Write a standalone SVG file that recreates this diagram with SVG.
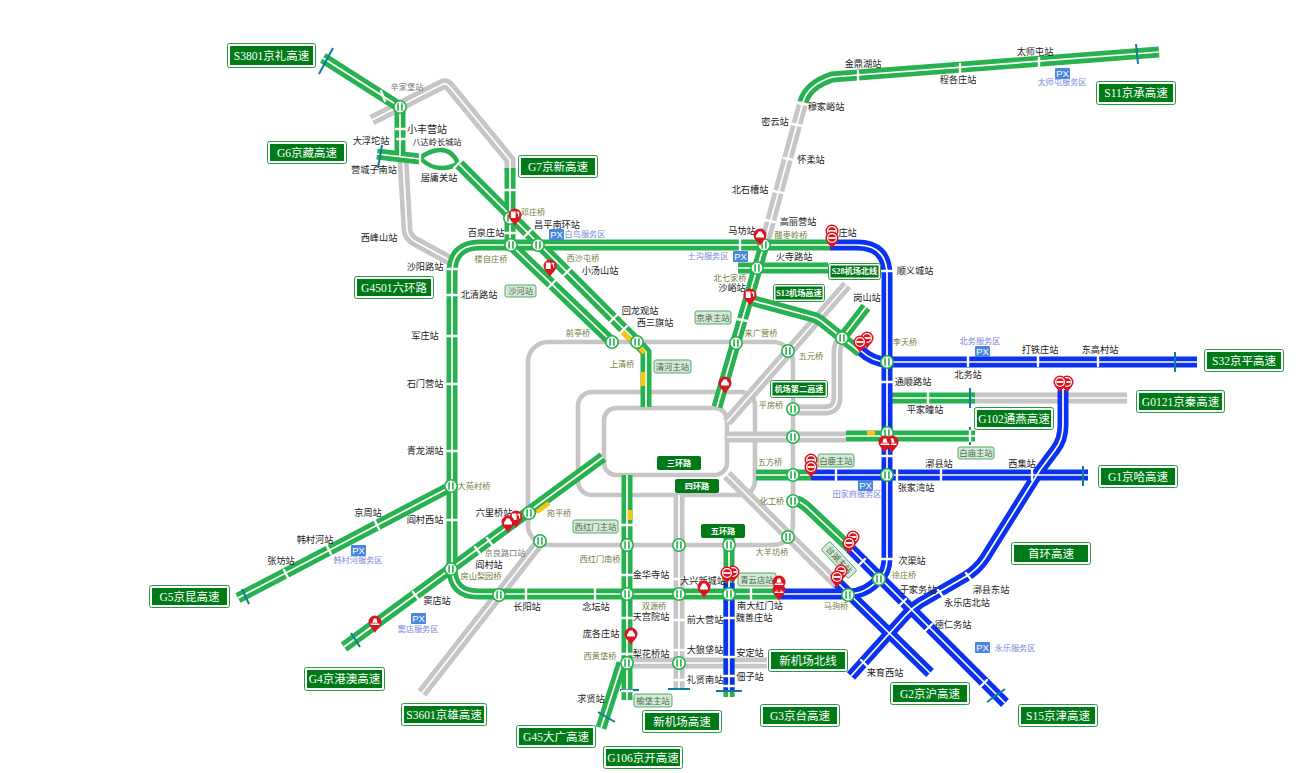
<svg xmlns="http://www.w3.org/2000/svg" xmlns:xlink="http://www.w3.org/1999/xlink" width="1306" height="773" viewBox="0 0 1306 773">
<style>
text{font-family:"Liberation Sans","Noto Sans CJK SC",sans-serif;text-anchor:middle;dominant-baseline:central}
.G,.B,.Y,.W,.R,.L,.T,.K,.S{fill:none}
.Y{stroke:#c6c6c6;stroke-width:11}
.G{stroke:#27b24f;stroke-width:11}
.B{stroke:#0a32f0;stroke-width:11}
.W{stroke:#fff;stroke-width:1.7}
.R{stroke:#c6c6c6;stroke-width:4.6}
.L{stroke:#27b24f;stroke-width:4.5}
.T{stroke:#fff;stroke-width:2.4;stroke-linecap:round}
.K{stroke:#0f7c99;stroke-width:2}
.S{stroke:#ffc20e;stroke-width:4.5}
.a{font-size:9.2px;fill:#222}
.b{font-size:8.2px;fill:#6f7d3c}
.c{font-size:8.2px;fill:#777}
.d{font-size:8.2px;fill:#7c86dc}
.h rect:first-child{fill:#fff;stroke:#2a9a48;stroke-width:1}
.h rect+rect{fill:#007a16}
.h text{font-family:"Liberation Serif","Noto Sans CJK SC",serif;fill:#fff;font-size:11.5px}
.m rect{fill:#007a16}
.m text{font-family:"Liberation Serif","Noto Sans CJK SC",serif;fill:#fff;font-size:8.2px;font-weight:bold}
.z rect{fill:#d6e9d8;stroke:#3fa65c;stroke-width:.9}
.z text{font-size:8.4px;fill:#4a6b4a}
.p rect{fill:#4a86e0}
.p text{font-size:9.5px;fill:#fff}
</style>
<defs>
<g id="jn"><circle r="6.2" fill="#fff" stroke="#27b24f" stroke-width="1.6"/><path d="M-1.9 -3.8V3.8M1.9 -3.8V3.8" stroke="#27b24f" stroke-width="1.6" fill="none"/></g>
<path id="pn" fill="#dc1420" d="M0 11C-1.5 7-6.5 4.5-6.5 0A6.5 6.5 0 1 1 6.5 0C6.5 4.5 1.5 7 0 11Z"/>
<g id="pc"><use xlink:href="#pn"/><circle r="4.4" fill="none" stroke="#fff" stroke-width="1.2"/><rect x="-3.6" y="-.9" width="7.2" height="1.8" fill="#fff"/></g>
<g id="pv"><use xlink:href="#pn"/><path fill="#fff" d="M-2.8 -1L-1.6 -3.4H1.6L2.8 -1L4 .2V2.4H-4V.2Z"/></g>
<g id="pf"><use xlink:href="#pn"/><path fill="#fff" d="M-4.2 -3.4H.6V3H-4.2ZM1.6 -3.2H4.2V1.6H3V-1.6H1.6Z"/></g>
<g id="pt"><use xlink:href="#pn"/><path fill="#fff" d="M-1.4 -3.6H1.4L2.6 .8H-2.6ZM-4.4 1.6H4.4V3H-4.4Z"/></g>
<path id="y1" d="M372 120L443 84Q447 83 450 87L510 160V172"/>
<path id="y2" d="M403 160L407 230Q408 238 416 242L453 262"/>
<path id="y3" d="M727 422L847 285"/>
<path id="y4" d="M798 410H825Q837 410 837 397V352Q837 345 842 338"/>
<path id="y5" d="M727 437H846"/>
<path id="y6" d="M970 398H1127"/>
<path id="y7" d="M727 475L838 585"/>
<path id="y8" d="M679 495V688"/>
<path id="y9" d="M627 663H767"/>
<path id="y10" d="M540 542L422 693"/>
<path id="y11" d="M764 245L803 102"/>
<path id="g1" d="M323 58L400 107V156"/>
<path id="g2" d="M377 154L420 159"/>
<path id="g3" d="M458 163L637 342L646 352V407"/>
<path id="g4" d="M510 168V245"/>
<path id="g5" d="M511 245L612 342"/>
<path id="g6" d="M830 245H480Q452 245 452 273V568Q452 594 478 594H780"/>
<path id="g7" d="M238 598L452 486"/>
<path id="g8" d="M344 647L603 457"/>
<path id="g9" d="M717 407L764 245"/>
<path id="g10" d="M803 102Q808 85 832 77L1159 52"/>
<path id="g11" d="M738 268H828"/>
<path id="g12" d="M750 300L813 317Q817 318 821 321L860 352"/>
<path id="g13" d="M842 338L866 307"/>
<path id="g14" d="M846 436H975"/>
<path id="g15" d="M882 398H975"/>
<path id="g16" d="M756 475H811"/>
<path id="g17" d="M797 501Q803 503 810 510L850 548"/>
<path id="g18" d="M627 475V700"/>
<path id="g19" d="M622 663L601 728"/>
<path id="g20" d="M729 537V697"/>
<path id="b1" d="M830 245H857Q887 245 887 275V558Q887 572 879 579Q866 594 848 594H780"/>
<path id="b2" d="M860 350Q873 362 887 362H1197"/>
<path id="b3" d="M811 475H1088"/>
<path id="b4" d="M850 548L1005 703"/>
<path id="b5" d="M838 583L930 673"/>
<path id="b6" d="M1063 390V425Q1063 440 1055 450L1040 470L985 558Q977 570 965 577L920 603Q912 608 905 616L851 676"/>
<path id="b7" d="M729 583V690"/>
</defs>
<rect width="1306" height="773" fill="#fff"/>
<g id="connectors">
<g id="rings" class="R"><rect x="604" y="408" width="123" height="67" rx="12"/><rect x="578" y="392" width="177" height="103" rx="14"/><rect x="528" y="342" width="265" height="203" rx="20"/></g>
<g class="Y"><use xlink:href="#y1"/><use xlink:href="#y2"/><use xlink:href="#y3"/><use xlink:href="#y4"/><use xlink:href="#y5"/><use xlink:href="#y6"/><use xlink:href="#y7"/><use xlink:href="#y8"/><use xlink:href="#y9"/><use xlink:href="#y10"/><use xlink:href="#y11"/></g>
<g class="W"><use xlink:href="#y1"/><use xlink:href="#y2"/><use xlink:href="#y3"/><use xlink:href="#y4"/><use xlink:href="#y5"/><use xlink:href="#y6"/><use xlink:href="#y7"/><use xlink:href="#y8"/><use xlink:href="#y9"/><use xlink:href="#y10"/><use xlink:href="#y11"/></g>
<g class="G"><use xlink:href="#g20"/><use xlink:href="#g14"/><use xlink:href="#g15"/></g><g class="W"><use xlink:href="#g20"/><use xlink:href="#g14"/><use xlink:href="#g15"/></g>
<g class="B"><use xlink:href="#b7"/></g><g class="W"><use xlink:href="#b7"/></g>
<g class="B"><use xlink:href="#b1"/><use xlink:href="#b2"/><use xlink:href="#b3"/><use xlink:href="#b4"/><use xlink:href="#b5"/><use xlink:href="#b6"/></g>
<g class="W"><use xlink:href="#b1"/><use xlink:href="#b2"/><use xlink:href="#b3"/><use xlink:href="#b4"/><use xlink:href="#b5"/><use xlink:href="#b6"/></g>
<g class="G"><use xlink:href="#g1"/><use xlink:href="#g2"/><use xlink:href="#g3"/><use xlink:href="#g4"/><use xlink:href="#g5"/><use xlink:href="#g6"/><use xlink:href="#g7"/><use xlink:href="#g8"/><use xlink:href="#g9"/><use xlink:href="#g10"/><use xlink:href="#g11"/><use xlink:href="#g12"/><use xlink:href="#g13"/><use xlink:href="#g16"/><use xlink:href="#g17"/><use xlink:href="#g18"/><use xlink:href="#g19"/></g>
<g class="W"><use xlink:href="#g1"/><use xlink:href="#g2"/><use xlink:href="#g3"/><use xlink:href="#g4"/><use xlink:href="#g5"/><use xlink:href="#g6"/><use xlink:href="#g7"/><use xlink:href="#g8"/><use xlink:href="#g9"/><use xlink:href="#g10"/><use xlink:href="#g11"/><use xlink:href="#g12"/><use xlink:href="#g13"/><use xlink:href="#g16"/><use xlink:href="#g17"/><use xlink:href="#g18"/><use xlink:href="#g19"/></g>
<path class="L" d="M420 158Q430 150 441 150Q452 150 458 163M420 158Q430 168 441 168Q452 168 458 163"/>
<path class="S" d="M621 331L633 342M640 348L644 353M643 372V386M630 510V520M537 512L549 503M867 433H875"/>
<path class="K" d="M333 48L319 74M382 145L378 168M242 589L249 604M351 633L360 647M1175 352V372M1083 466V486M970 388V408M970 427V445M716 691H742M668 689H690M620 690H639M598 712L615 722M987 702L1005 689M1136 44L1138 64"/>
<path class="T" d="M381 91L385 101M396 129H406M397 139H407M420 153V164M454 168L462 160M505 190H515M505 233H515M524 237L531 230M563 276L571 268M548 288L556 280M609 323L617 315M619 334L627 326M448 269H458M447 295H457M447 336H457M447 384H457M447 451H457M447 520H457M379 529L375 521M331 554L327 546M288 578L284 570M419 600L413 592M481 555L475 547M493 546L487 538M526 589V599M595 589V599M674 579H684M674 620H684M674 650H684M674 680H684M622 525H632M622 575H632M622 618H632M622 654H632M622 691H632M724 618H734M724 657H734M724 676H734M724 686H734M751 589V599M737 319L747 321M784 158L794 160M792 124L802 126M773 191L783 193M798 103L808 105M765 220L775 222M882 271H892M882 382H892M882 456H892M882 559H892M836 470V480M897 470V480M941 470V480M1032 470V480M968 356V366M1038 356V366M1098 356V366M928 393V403M970 431V441M858 566L865 559M899 606L906 599M925 631L932 624M980 687L987 680M972 581L966 573M944 598L938 590M869 668L861 660M858 71L858 81M960 64L960 74M1039 58L1039 68M740 240V250"/>
</g>
<g id="labels-stations">
<text class="c" x="407" y="87">辛家堡站</text><text class="a" x="427" y="129" style="font-size:10px">小丰营站</text><text class="a" x="371" y="141">大浮坨站</text><text class="a" x="437" y="142" style="font-size:8.2px">八达岭长城站</text><text class="a" x="374" y="170">营城子南站</text><text class="a" x="439" y="178">居庸关站</text><text class="b" x="533" y="212">邓庄桥</text><text class="a" x="557" y="225">昌平南环站</text><text class="a" x="486" y="233">百泉庄站</text><text class="b" x="491" y="259">楼自庄桥</text><text class="a" x="379" y="238">西峰山站</text><text class="a" x="425" y="267">沙阳路站</text><text class="b" x="583" y="258">西沙屯桥</text><text class="a" x="600" y="271">小汤山站</text><text class="a" x="479" y="295">北清路站</text><text class="a" x="425" y="336">军庄站</text><text class="b" x="578" y="333">前亭桥</text><text class="a" x="640" y="311">回龙观站</text><text class="a" x="655" y="323">西三旗站</text><text class="b" x="622" y="364">上清桥</text><text class="a" x="425" y="384">石门营站</text><text class="a" x="425" y="451">青龙湖站</text><text class="b" x="474" y="486">大苑村桥</text><text class="a" x="368" y="513">京周站</text><text class="a" x="425" y="520">阎村西站</text><text class="a" x="315" y="540">韩村河站</text><text class="a" x="281" y="561">张坊站</text><text class="a" x="494" y="513">六里桥站</text><text class="b" x="559" y="513">宛平桥</text><text class="c" x="505" y="553">京良路口站</text><text class="a" x="489" y="565">阎村站</text><text class="b" x="481" y="576">房山梨园桥</text><text class="a" x="437" y="601">窦店站</text><text class="a" x="527" y="607">长阳站</text><text class="a" x="596" y="607">念坛站</text><text class="b" x="600" y="559">西红门南桥</text><text class="a" x="651" y="575">金华寺站</text><text class="a" x="703" y="581">大兴新城站</text><text class="b" x="654" y="606">双源桥</text><text class="a" x="651" y="617">天宫院站</text><text class="a" x="705" y="620">前大营站</text><text class="a" x="601" y="634">庞各庄站</text><text class="a" x="651" y="654">梨花桥站</text><text class="a" x="705" y="650">大狼垡站</text><text class="b" x="600" y="656">西黄垡桥</text><text class="a" x="705" y="680">礼贤南站</text><text class="a" x="591" y="699">求贤站</text><text class="a" x="760" y="606">南大红门站</text><text class="a" x="754" y="618">魏善庄站</text><text class="a" x="750" y="653">安定站</text><text class="a" x="750" y="677">佃子站</text><text class="b" x="836" y="606">马驹桥</text><text class="b" x="772" y="552">大羊坊桥</text><text class="a" x="885" y="673">来育西站</text><text class="b" x="904" y="575">徐庄桥</text><text class="a" x="912" y="561">次渠站</text><text class="a" x="918" y="590">于家务站</text><text class="a" x="991" y="590">漷县东站</text><text class="a" x="967" y="603">永乐店北站</text><text class="a" x="953" y="625">德仁务站</text><text class="a" x="916" y="488">张家湾站</text><text class="a" x="939" y="464">漷县站</text><text class="a" x="1022" y="464">西集站</text><text class="b" x="772" y="501">化工桥</text><text class="b" x="770" y="462">五方桥</text><text class="b" x="771" y="405">平房桥</text><text class="a" x="925" y="410">平家疃站</text><text class="a" x="913" y="382">通顺路站</text><text class="a" x="968" y="375">北务站</text><text class="a" x="1040" y="350">打铁庄站</text><text class="a" x="1100" y="350">东高村站</text><text class="b" x="905" y="342">李天桥</text><text class="a" x="915" y="271">顺义城站</text><text class="a" x="867" y="298">岗山站</text><text class="b" x="811" y="356">五元桥</text><text class="b" x="761" y="333">来广营桥</text><text class="a" x="794" y="257">火寺路站</text><text class="b" x="730" y="278">北七家桥</text><text class="a" x="732" y="288">沙峪站</text><text class="a" x="742" y="231">马坊站</text><text class="a" x="798" y="222">高丽营站</text><text class="b" x="791" y="235">酸枣岭桥</text><text class="a" x="843" y="233">赵庄站</text><text class="a" x="863" y="64">金鼎湖站</text><text class="a" x="1035" y="52">太师屯站</text><text class="a" x="826" y="107">穆家峪站</text><text class="a" x="775" y="122">密云站</text><text class="a" x="811" y="160">怀柔站</text><text class="a" x="750" y="190">北石槽站</text><text class="a" x="958" y="80">程各庄站</text>
</g>
<g id="junctions">
<use xlink:href="#jn" x="400" y="107"/><use xlink:href="#jn" x="510" y="218"/><use xlink:href="#jn" x="511" y="245"/><use xlink:href="#jn" x="538" y="245"/><use xlink:href="#jn" x="612" y="342"/><use xlink:href="#jn" x="637" y="342"/><use xlink:href="#jn" x="736" y="343"/><use xlink:href="#jn" x="764" y="245"/><use xlink:href="#jn" x="757" y="268"/><use xlink:href="#jn" x="788" y="351"/><use xlink:href="#jn" x="842" y="338"/><use xlink:href="#jn" x="793" y="409"/><use xlink:href="#jn" x="793" y="437"/><use xlink:href="#jn" x="793" y="475"/><use xlink:href="#jn" x="793" y="501"/><use xlink:href="#jn" x="788" y="537"/><use xlink:href="#jn" x="887" y="362"/><use xlink:href="#jn" x="887" y="433"/><use xlink:href="#jn" x="887" y="475"/><use xlink:href="#jn" x="879" y="579"/><use xlink:href="#jn" x="848" y="595"/><use xlink:href="#jn" x="729" y="545"/><use xlink:href="#jn" x="729" y="594"/><use xlink:href="#jn" x="679" y="545"/><use xlink:href="#jn" x="679" y="594"/><use xlink:href="#jn" x="679" y="663"/><use xlink:href="#jn" x="627" y="545"/><use xlink:href="#jn" x="627" y="594"/><use xlink:href="#jn" x="627" y="663"/><use xlink:href="#jn" x="540" y="541"/><use xlink:href="#jn" x="499" y="595"/><use xlink:href="#jn" x="451" y="486"/><use xlink:href="#jn" x="451" y="569"/><use xlink:href="#jn" x="529" y="513"/>
</g>
<g id="service">
<g class="p"><rect x="549" y="229" width="15" height="11" rx="1"/><text x="556.5" y="234.5">PX</text><rect x="733" y="251" width="15" height="11" rx="1"/><text x="740.5" y="256.5">PX</text><rect x="975" y="346" width="15" height="11" rx="1"/><text x="982.5" y="351.5">PX</text><rect x="858" y="480" width="15" height="11" rx="1"/><text x="865.5" y="485.5">PX</text><rect x="351" y="545" width="15" height="11" rx="1"/><text x="358.5" y="550.5">PX</text><rect x="411" y="613" width="15" height="11" rx="1"/><text x="418.5" y="618.5">PX</text><rect x="975" y="642" width="15" height="11" rx="1"/><text x="982.5" y="647.5">PX</text><rect x="1055" y="68" width="15" height="11" rx="1"/><text x="1062.5" y="73.5">PX</text></g>
<text class="d" x="585" y="234">白鸟服务区</text><text class="d" x="708" y="256">土沟服务区</text><text class="d" x="980" y="341">北务服务区</text><text class="d" x="857" y="494">田家府服务区</text><text class="d" x="358" y="560">韩村河服务区</text><text class="d" x="418" y="629">窦店服务区</text><text class="d" x="1015" y="648">永乐服务区</text><text class="d" x="1062" y="82">太师屯服务区</text>
</g>
<g id="toll-stations" class="z">
<g id="z1"><rect x="505" y="285" width="31" height="12" rx="2"/><text x="520.5" y="291">沙河站</text></g>
<g id="z2"><rect x="654" y="360" width="37" height="13" rx="2"/><text x="672.5" y="366.5">清河主站</text></g>
<g id="z3"><rect x="695" y="311" width="36" height="13" rx="2"/><text x="713" y="317.5">京承主站</text></g>
<g id="z4"><rect x="958" y="447" width="36" height="12" rx="2"/><text x="976" y="453">白庙主站</text></g>
<g id="z5"><rect x="818" y="454" width="36" height="13" rx="2"/><text x="836" y="460.5">白鹿主站</text></g>
<g id="z6"><rect x="573" y="520" width="45" height="13" rx="2"/><text x="595.5" y="526.5">西红门主站</text></g>
<g id="z7"><rect x="738" y="573" width="38" height="13" rx="2"/><text x="757" y="579.5">青云店站</text></g>
<g id="z8"><rect x="634" y="694" width="38" height="13" rx="2"/><text x="653" y="700.5">榆垡主站</text></g>
<g id="z9" transform="rotate(47 839 560)"><rect x="819" y="554" width="40" height="12" rx="2"/><text x="839" y="560">台湖主站</text></g>
</g>
<g id="hw-s3801" class="h"><rect x="227.500" y="43.500" width="88" height="24" rx="2"/><rect x="230" y="46" width="83" height="19"/><text x="271.500" y="55.500">S3801京礼高速</text></g>
<g id="hw-g6" class="h"><rect x="267.500" y="141.500" width="79" height="22" rx="2"/><rect x="270" y="144" width="74" height="17"/><text x="307" y="152.500">G6京藏高速</text></g>
<g id="hw-g7" class="h"><rect x="518.500" y="155.500" width="79" height="22" rx="2"/><rect x="521" y="158" width="74" height="17"/><text x="558" y="166.500">G7京新高速</text></g>
<g id="hw-g4501" class="h"><rect x="354.500" y="276.500" width="79" height="22" rx="2"/><rect x="357" y="279" width="74" height="17"/><text x="394" y="287.500">G4501六环路</text></g>
<g id="hw-s11" class="h"><rect x="1096.500" y="81.500" width="79" height="23" rx="2"/><rect x="1099" y="84" width="74" height="18"/><text x="1136" y="93">S11京承高速</text></g>
<g id="hw-s32" class="h"><rect x="1204.500" y="349.500" width="79" height="22" rx="2"/><rect x="1207" y="352" width="74" height="17"/><text x="1244" y="360.500">S32京平高速</text></g>
<g id="hw-g0121" class="h"><rect x="1136.500" y="390.500" width="88" height="22" rx="2"/><rect x="1139" y="393" width="83" height="17"/><text x="1180.500" y="401.500">G0121京秦高速</text></g>
<g id="hw-g102" class="h"><rect x="974.500" y="407.500" width="79" height="22" rx="2"/><rect x="977" y="410" width="74" height="17"/><text x="1014" y="418.500">G102通燕高速</text></g>
<g id="hw-g1" class="h"><rect x="1098.500" y="465.500" width="79" height="22" rx="2"/><rect x="1101" y="468" width="74" height="17"/><text x="1138" y="476.500">G1京哈高速</text></g>
<g id="hw-shou" class="h"><rect x="1011.500" y="542.500" width="79" height="22" rx="2"/><rect x="1014" y="545" width="74" height="17"/><text x="1051" y="553.500">首环高速</text></g>
<g id="hw-xjbx" class="h"><rect x="768.500" y="649.500" width="79" height="22" rx="2"/><rect x="771" y="652" width="74" height="17"/><text x="808" y="660.500">新机场北线</text></g>
<g id="hw-g3" class="h"><rect x="760.500" y="704.500" width="79" height="22" rx="2"/><rect x="763" y="707" width="74" height="17"/><text x="800" y="715.500">G3京台高速</text></g>
<g id="hw-g2" class="h"><rect x="890.500" y="682.500" width="79" height="22" rx="2"/><rect x="893" y="685" width="74" height="17"/><text x="930" y="693.500">G2京沪高速</text></g>
<g id="hw-s15" class="h"><rect x="1018.500" y="704.500" width="79" height="22" rx="2"/><rect x="1021" y="707" width="74" height="17"/><text x="1058" y="715.500">S15京津高速</text></g>
<g id="hw-xjc" class="h"><rect x="642.500" y="710.500" width="79" height="22" rx="2"/><rect x="645" y="713" width="74" height="17"/><text x="682" y="721.500">新机场高速</text></g>
<g id="hw-g106" class="h"><rect x="603.500" y="746.500" width="79" height="22" rx="2"/><rect x="606" y="749" width="74" height="17"/><text x="643" y="757.500">G106京开高速</text></g>
<g id="hw-g45" class="h"><rect x="516.500" y="725.500" width="79" height="22" rx="2"/><rect x="519" y="728" width="74" height="17"/><text x="556" y="736.500">G45大广高速</text></g>
<g id="hw-s3601" class="h"><rect x="401.500" y="703.500" width="85" height="22" rx="2"/><rect x="404" y="706" width="80" height="17"/><text x="444" y="714.500">S3601京雄高速</text></g>
<g id="hw-g4" class="h"><rect x="304.500" y="667.500" width="80" height="23" rx="2"/><rect x="307" y="670" width="75" height="18"/><text x="344.500" y="679">G4京港澳高速</text></g>
<g id="hw-g5" class="h"><rect x="149.500" y="585.500" width="80" height="22" rx="2"/><rect x="152" y="588" width="75" height="17"/><text x="189.500" y="596.500">G5京昆高速</text></g>
<g id="hw-s28" class="h m"><rect x="828.500" y="263.500" width="52" height="16" rx="2"/><rect x="830.500" y="265.500" width="48" height="12"/><text x="854.500" y="271.500" style="font-size:8.2px;font-weight:bold">S28机场北线</text></g>
<g id="hw-s12" class="h m"><rect x="773.500" y="284.500" width="51" height="17" rx="2"/><rect x="775.500" y="286.500" width="47" height="13"/><text x="799" y="293" style="font-size:8.2px;font-weight:bold">S12机场高速</text></g>
<g id="hw-jc2" class="h m"><rect x="770.500" y="380.500" width="57" height="17" rx="2"/><rect x="772.500" y="382.500" width="53" height="13"/><text x="799" y="389" style="font-size:8.2px;font-weight:bold">机场第二高速</text></g>
<g id="ring3" class="m"><rect x="657" y="456" width="44" height="14" rx="2"/><text x="679" y="463">三环路</text></g>
<g id="ring4" class="m"><rect x="675" y="479" width="44" height="14" rx="2"/><text x="697" y="486">四环路</text></g>
<g id="ring5" class="m"><rect x="701" y="524" width="44" height="14" rx="2"/><text x="723" y="531">五环路</text></g>
<g id="events">
<use xlink:href="#pf" x="515" y="215"/><use xlink:href="#pf" x="550" y="266"/><use xlink:href="#pv" x="760" y="235"/><use xlink:href="#pc" x="832" y="231"/><use xlink:href="#pc" x="832" y="238"/><use xlink:href="#pf" x="750" y="295"/><use xlink:href="#pc" x="867" y="338"/><use xlink:href="#pc" x="860" y="342"/><use xlink:href="#pv" x="725" y="383"/><use xlink:href="#pt" x="892" y="442"/><use xlink:href="#pt" x="885" y="442"/><use xlink:href="#pc" x="811" y="460"/><use xlink:href="#pc" x="811" y="467"/><use xlink:href="#pc" x="853" y="537"/><use xlink:href="#pc" x="849" y="543"/><use xlink:href="#pc" x="841" y="571"/><use xlink:href="#pc" x="837" y="577"/><use xlink:href="#pf" x="516" y="517"/><use xlink:href="#pv" x="508" y="522"/><use xlink:href="#pv" x="704" y="587"/><use xlink:href="#pv" x="631" y="634"/><use xlink:href="#pc" x="733" y="572"/><use xlink:href="#pc" x="727" y="573"/><use xlink:href="#pt" x="779" y="590"/><use xlink:href="#pt" x="779" y="582"/><use xlink:href="#pc" x="1067" y="382"/><use xlink:href="#pc" x="1060" y="382"/><use xlink:href="#pt" x="375" y="622"/>
</g>
</svg>
